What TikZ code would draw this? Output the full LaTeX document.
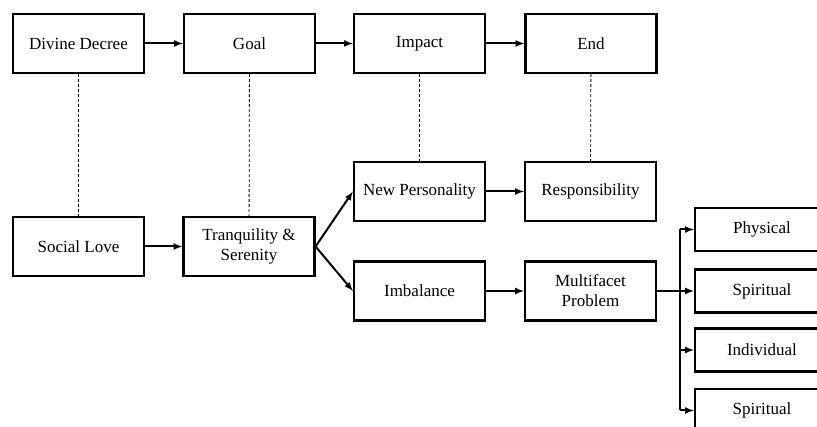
\documentclass[tikz,border=0pt]{standalone}
\usepackage{fontspec}
\setmainfont{Liberation Serif}
\usetikzlibrary{arrows}

\begin{document}
\begin{tikzpicture}[x=1pt, y=-1pt, every node/.style={font=\fontsize{17}{20}\selectfont}]
	\tikzstyle{blk} = [draw, line width=2.2pt, rectangle, align=center, inner sep=0pt, minimum height=59pt, minimum width=131pt]
	\tikzstyle{sub} = [draw, line width=2.2pt, rectangle, inner sep=0pt, minimum height=43pt, minimum width=134pt]
	\tikzstyle{arr} = [line width=2pt, -latex]
	\tikzstyle{link} = [line width=0.8pt, dash pattern=on 3pt off 2pt]
	\useasboundingbox (0,0) rectangle (817,427);
	\clip (0,0) rectangle (817,427);

	\node[blk] (dd) at (78.5,43.5) {Divine Decree};
	\node[blk] (goal) at (249.5,43.5) {Goal};
	\node[blk] (imp) at (419.5,43.5) {Impact};
	\node[blk] (fin) at (591,43.5) {End};

	\node[blk] (sl) at (78.5,246.5) {Social Love};
	\node[blk] (ts) at (249,246.5) {Tranquility \&\\Serenity};
	\node[blk] (np) at (419.5,191.5) {New Personality};
	\node[blk] (resp) at (590.5,191.5) {Responsibility};
	\node[blk] (imb) at (419.5,291) {Imbalance};
	\node[blk] (mp) at (590.5,291) {Multifacet\\Problem};

	\node[sub] (phys) at (762,229.5) {Physical};
	\node[sub] (spir) at (762,291) {Spiritual};
	\node[sub] (ind) at (762,350) {Individual};
	\node[sub] (spirb) at (762,410.5) {Spiritual};

	\draw[arr] (dd) -- (goal);
	\draw[arr] (goal) -- (imp);
	\draw[arr] (imp) -- (fin);
	\draw[arr] (sl) -- (ts);
	\draw[arr] (ts.east) -- (np.west);
	\draw[arr] (ts.east) -- (imb.west);
	\draw[arr] (np) -- (resp);
	\draw[arr] (imb) -- (mp);

	\draw[link] (dd) -- (sl);
	\draw[link] (goal) -- (ts);
	\draw[link] (imp) -- (np);
	\draw[link] (fin) -- (resp);

	\coordinate (top) at (680,229.5);
	\coordinate (bot) at (680,410.5);
	\draw[line width=2pt] (top) -- (bot);
	\draw[arr] (top) -- (phys.west);
	\draw[arr] (mp.east) -- (spir.west);
	\draw[arr] (top |- ind) -- (ind.west);
	\draw[arr] (bot) -- (spirb.west);
\end{tikzpicture}
\end{document}
